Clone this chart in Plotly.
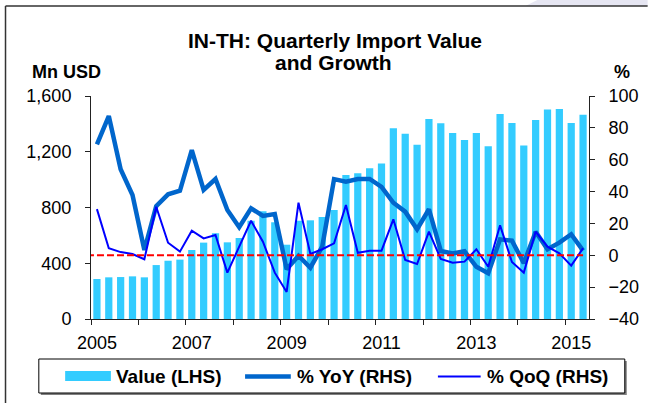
import plotly.graph_objects as go

# Quarterly categories, 2005Q1 .. 2015Q2
quarters = [f"{y}Q{q}" for y in range(2005, 2016) for q in range(1, 5)][:42]

# Import value, Mn USD (left axis)
value_mn_usd = [
    287, 299, 301, 306, 299, 387, 418, 426, 495, 548, 615, 550, 581, 705,
    773, 694, 533, 705, 708, 732, 782, 1033, 1045, 1081, 1115, 1368, 1330, 1251,
    1435, 1404, 1335, 1284, 1335, 1239, 1471, 1406, 1244, 1428, 1504, 1507, 1406, 1466,
]

# Year-on-year growth, % (right axis)
yoy_pct = [
    69.7, 87.4, 54.0, 37.8, 3.3, 30.9, 38.3, 40.5, 66.0, 41.0, 47.9, 28.4, 17.6, 29.5,
    24.7, 25.9, -8.8, -0.3, -7.8, 5.4, 47.8, 46.2, 47.9, 47.9, 43.0, 33.0, 27.4, 16.3,
    28.9, 2.7, 1.2, 2.5, -7.2, -11.3, 10.0, 9.2, -5.0, 14.8, 3.8, 7.9, 13.2, 2.9,
]

# Quarter-on-quarter growth, % (right axis)
qoq_pct = [
    29.0, 4.4, 2.0, 0.8, -2.5, 30.5, 7.9, 2.3, 15.4, 10.6, 12.7, -10.9, 5.4, 21.7,
    8.5, -10.9, -23.0, 33.0, 0.8, 3.8, 7.5, 31.6, 1.6, 2.9, 2.9, 22.6, -3.0, -5.5,
    14.8, -2.3, -4.7, -4.0, 3.8, -7.2, 18.8, -4.2, -10.9, 14.8, 5.4, 1.2, -6.5, 4.4,
]

year_labels = ["2005", "2007", "2009", "2011", "2013", "2015"]
left_ticks = [0, 400, 800, 1200, 1600]
right_ticks = [-40, -20, 0, 20, 40, 60, 80, 100]

BAR_COLOR = "#33CCFF"
YOY_COLOR = "#0066CC"
QOQ_COLOR = "#0000FF"
AXIS_COLOR = "#222222"
FONT = "Arial, 'Liberation Sans', sans-serif"

W, H = 651, 403
L, R, T, B = 91, 59, 96, 84
PW, PH = W - L - R, H - T - B

idx = list(range(len(quarters)))
label_pos = [quarters.index(f"{y}Q1") for y in year_labels]
boundary_pos = [i - 0.5 for i in range(0, len(quarters), 4)]


def px(x):
    return (x - L) / PW


def py(y):
    return (H - B - y) / PH


fig = go.Figure()
fig.add_trace(go.Bar(
    x=idx, y=value_mn_usd, name="Value (LHS)", marker=dict(color=BAR_COLOR, line=dict(width=0)),
    customdata=quarters, hovertemplate="%{customdata}: %{y:,}<extra></extra>", showlegend=False,
))
fig.add_trace(go.Scatter(
    x=idx, y=yoy_pct, name="% YoY (RHS)", yaxis="y2", mode="lines",
    line=dict(color=YOY_COLOR, width=4.5), customdata=quarters,
    hovertemplate="%{customdata}: %{y}%<extra></extra>", showlegend=False,
))
fig.add_trace(go.Scatter(
    x=idx, y=qoq_pct, name="% QoQ (RHS)", yaxis="y2", mode="lines",
    line=dict(color=QOQ_COLOR, width=2), customdata=quarters,
    hovertemplate="%{customdata}: %{y}%<extra></extra>", showlegend=False,
))

shapes = [
    # zero reference on the growth axis
    dict(type="line", xref="x", yref="y2", x0=-0.84, x1=idx[-1], y0=0, y1=0,
         line=dict(color="#FF0000", width=2, dash="7px,3px"), layer="above"),
    # tinted strip and frame at the top-left
    dict(type="path", xref="paper", yref="paper",
         path=f"M{px(540)},{py(0)} L{px(651)},{py(0)} L{px(651)},{py(6)} L{px(528)},{py(6)} Z",
         fillcolor="#E6E6F2", line=dict(width=0)),
    dict(type="line", xref="paper", yref="paper", x0=px(5), x1=px(651), y0=py(6), y1=py(6),
         line=dict(color="#333333", width=1.5)),
    dict(type="line", xref="paper", yref="paper", x0=px(5), x1=px(5), y0=py(6), y1=py(403),
         line=dict(color="#333333", width=1.5)),
    # legend box with shadow
    dict(type="rect", xref="paper", yref="paper", x0=px(40.5), x1=px(630), y0=py(361), y1=py(395),
         fillcolor="#7F7F7F", line=dict(width=0)),
    dict(type="rect", xref="paper", yref="paper", x0=px(38.5), x1=px(628), y0=py(359), y1=py(393),
         fillcolor="white", line=dict(color="#000000", width=1)),
    dict(type="rect", xref="paper", yref="paper", x0=px(65), x1=px(111), y0=py(371), y1=py(381),
         fillcolor=BAR_COLOR, line=dict(width=0)),
    dict(type="line", xref="paper", yref="paper", x0=px(246), x1=px(292), y0=py(376.5), y1=py(376.5),
         line=dict(color=YOY_COLOR, width=4.5)),
    dict(type="line", xref="paper", yref="paper", x0=px(440), x1=px(483), y0=py(376.5), y1=py(376.5),
         line=dict(color=QOQ_COLOR, width=2)),
]

bold = dict(family=FONT, color="#000000", weight="bold")
annotations = [
    dict(text="IN-TH: Quarterly Import Value", x=px(336), y=py(41), font=dict(size=21, **bold)),
    dict(text="and Growth", x=px(335), y=py(62), font=dict(size=21, **bold)),
    dict(text="Mn USD", x=px(66.7), y=py(71.5), font=dict(size=18, **bold)),
    dict(text="%", x=px(625.5), y=py(71.5), font=dict(size=18, **bold)),
    dict(text="Value (LHS)", x=px(114.6), y=py(376.5), xanchor="left", font=dict(size=19, **bold)),
    dict(text="% YoY (RHS)", x=px(296), y=py(376.5), xanchor="left", font=dict(size=19, **bold)),
    dict(text="% QoQ (RHS)", x=px(487.5), y=py(376.5), xanchor="left", font=dict(size=19, **bold)),
]
for a in annotations:
    a.update(xref="paper", yref="paper", showarrow=False, yanchor="middle", xanchor=a.get("xanchor", "center"))

tick_font = dict(family=FONT, size=18, color="#000000")
fig.update_layout(
    width=W, height=H, autosize=False,
    margin=dict(l=L, r=R, t=T, b=B, pad=0),
    paper_bgcolor="white", plot_bgcolor="white",
    bargap=0.39, showlegend=False,
    shapes=shapes, annotations=annotations,
    xaxis=dict(
        range=[-0.5, len(quarters) - 0.5], tickmode="array", tickvals=label_pos, ticktext=year_labels,
        ticks="", showgrid=False, zeroline=False, showline=True, linecolor=AXIS_COLOR, linewidth=1,
        tickfont=tick_font, ticklabelstandoff=7,
        minor=dict(tickmode="array", tickvals=boundary_pos, ticks="outside", ticklen=5,
                   tickcolor=AXIS_COLOR, tickwidth=1, showgrid=False),
    ),
    yaxis=dict(
        range=[0, 1600], tickmode="array", tickvals=left_ticks, tickformat=",",
        ticks="outside", ticklen=5, tickcolor=AXIS_COLOR, showgrid=False, zeroline=False,
        showline=True, linecolor=AXIS_COLOR, linewidth=1, tickfont=tick_font, ticklabelstandoff=10,
    ),
    yaxis2=dict(
        range=[-40, 100], tickmode="array", tickvals=right_ticks, overlaying="y", side="right",
        ticks="outside", ticklen=5, tickcolor=AXIS_COLOR, showgrid=False, zeroline=False,
        showline=True, linecolor=AXIS_COLOR, linewidth=1, tickfont=tick_font, ticklabelstandoff=10,
    ),
)

fig.write_html("out.html")
